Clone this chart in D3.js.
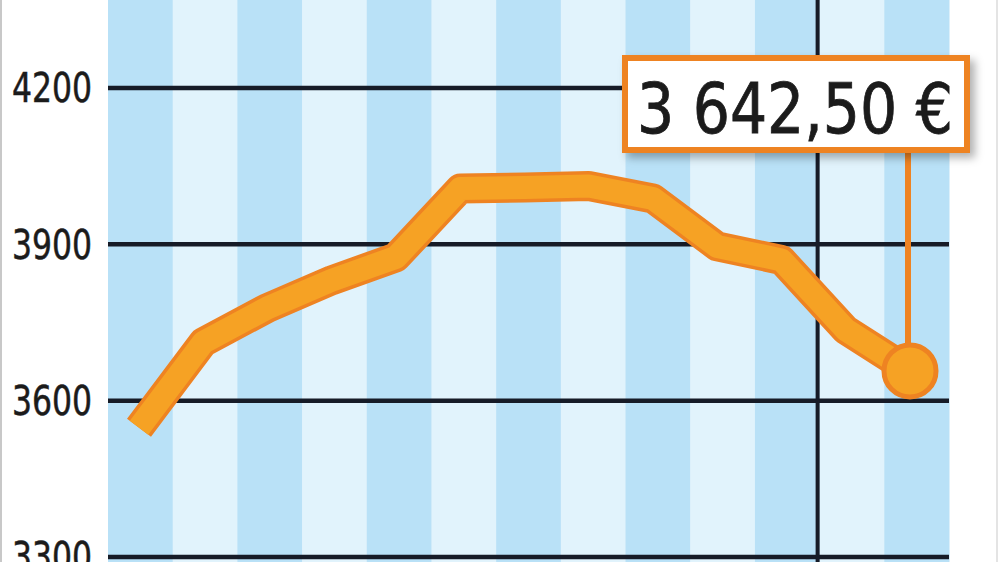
<!DOCTYPE html>
<html>
<head>
<meta charset="utf-8">
<script src="https://cdn.jsdelivr.net/npm/d3@7"></script>
<style>
  body { margin: 0; background: #fff; }
  svg { display: block; }
</style>
</head>
<body>
<div id="chart-container"></div>
<script>
// monthly columns (labels not printed on the chart)
var periods = ["m1","m2","m3","m4","m5","m6","m7","m8","m9","m10","m11","m12","m13"];
var values = [3548, 3712, 3778, 3831, 3875, 4007, 4009, 4012, 3988, 3896, 3870, 3736, 3657];
var yTicks = [3300, 3600, 3900, 4200];
var yearBreak = "m12";          // vertical separator before this column
var lastLabel = "3 642,50 €";

var width = 1000, height = 562;

var svg = d3.select("#chart-container")
    .append("svg")
    .attr("width", width)
    .attr("height", height);

var defs = svg.append("defs");
var shadow = defs.append("filter").attr("id", "shadow")
    .attr("x", "-10%").attr("y", "-10%").attr("width", "130%").attr("height", "140%");
shadow.append("feDropShadow")
    .attr("dx", 5).attr("dy", 5)
    .attr("stdDeviation", 4)
    .attr("flood-color", "#000")
    .attr("flood-opacity", 0.3);

var x = d3.scaleBand()
    .domain(periods)
    .range([108, 949]);

// points are slightly inside the column centres on the original
var xp = d3.scalePoint()
    .domain(periods)
    .range([139, 910]);

var y = d3.scaleLinear()
    .domain([3300, 4200])
    .range([557, 88]);

// thin frame lines at the page edges
svg.append("line")
    .attr("x1", 1).attr("x2", 1).attr("y1", 0).attr("y2", height)
    .attr("stroke", "#c8c8c8").attr("stroke-width", 2);
svg.append("line")
    .attr("x1", 997).attr("x2", 997).attr("y1", 0).attr("y2", height)
    .attr("stroke", "#e4e4e4").attr("stroke-width", 2);

// stripes
svg.append("g")
    .selectAll("rect")
    .data(periods)
    .enter()
    .append("rect")
    .attr("x", function(d) { return x(d); })
    .attr("y", 0)
    .attr("width", x.bandwidth() + 0.5)
    .attr("height", height)
    .attr("fill", function(d, i) { return i % 2 == 0 ? "#b9e1f7" : "#e1f3fc"; });

// horizontal grid
svg.append("g")
    .selectAll("line")
    .data(yTicks)
    .enter()
    .append("line")
    .attr("x1", 108)
    .attr("x2", 949)
    .attr("y1", function(d) { return y(d); })
    .attr("y2", function(d) { return y(d); })
    .attr("stroke", "#161b27")
    .attr("stroke-width", 4.5);

// y labels
svg.append("g")
    .selectAll("text")
    .data(yTicks)
    .enter()
    .append("text")
    .attr("x", 92)
    .attr("y", function(d) { return y(d); })
    .attr("dy", "0.36em")
    .attr("text-anchor", "end")
    .attr("font-family", "'DejaVu Sans Condensed', 'DejaVu Sans', sans-serif")
    .attr("font-size", 40)
    .attr("textLength", 80)
    .attr("lengthAdjust", "spacingAndGlyphs")
    .attr("fill", "#1b1b1b")
    .attr("stroke", "#1b1b1b")
    .attr("stroke-width", 0.5)
    .text(function(d) { return d; });

// year separator
svg.append("line")
    .attr("x1", x(yearBreak) - 2)
    .attr("x2", x(yearBreak) - 2)
    .attr("y1", 0)
    .attr("y2", height)
    .attr("stroke", "#161b27")
    .attr("stroke-width", 4);

var line = d3.line()
    .x(function(d, i) { return xp(periods[i]); })
    .y(function(d) { return y(d); });

svg.append("path")
    .datum(values)
    .attr("fill", "none")
    .attr("stroke", "#ee8322")
    .attr("stroke-width", 30)
    .attr("stroke-linejoin", "round")
    .attr("d", line);

svg.append("path")
    .datum(values)
    .attr("fill", "none")
    .attr("stroke", "#f6a224")
    .attr("stroke-width", 23)
    .attr("stroke-linejoin", "round")
    .attr("d", line);

var lastX = xp(periods[periods.length - 1]);
var lastY = y(values[values.length - 1]);

// leader from label to last point
svg.append("line")
    .attr("x1", lastX - 2)
    .attr("x2", lastX - 2)
    .attr("y1", 150)
    .attr("y2", lastY)
    .attr("stroke", "#ee8322")
    .attr("stroke-width", 6);

svg.append("circle")
    .attr("cx", lastX)
    .attr("cy", lastY)
    .attr("r", 26)
    .attr("fill", "#f6a224")
    .attr("stroke", "#ee8322")
    .attr("stroke-width", 5);

// value label box
svg.append("rect")
    .attr("x", 625)
    .attr("y", 58)
    .attr("width", 342)
    .attr("height", 92)
    .attr("fill", "#fff")
    .attr("stroke", "#ee8322")
    .attr("stroke-width", 6)
    .attr("filter", "url(#shadow)");

svg.append("text")
    .attr("x", 795)
    .attr("y", 133)
    .attr("text-anchor", "middle")
    .attr("font-family", "'DejaVu Sans Condensed', 'DejaVu Sans', sans-serif")
    .attr("font-size", 70)
    .attr("textLength", 316)
    .attr("lengthAdjust", "spacingAndGlyphs")
    .attr("fill", "#1b1b1b")
    .attr("stroke", "#1b1b1b")
    .attr("stroke-width", 0.8)
    .text(lastLabel);
</script>
</body>
</html>
